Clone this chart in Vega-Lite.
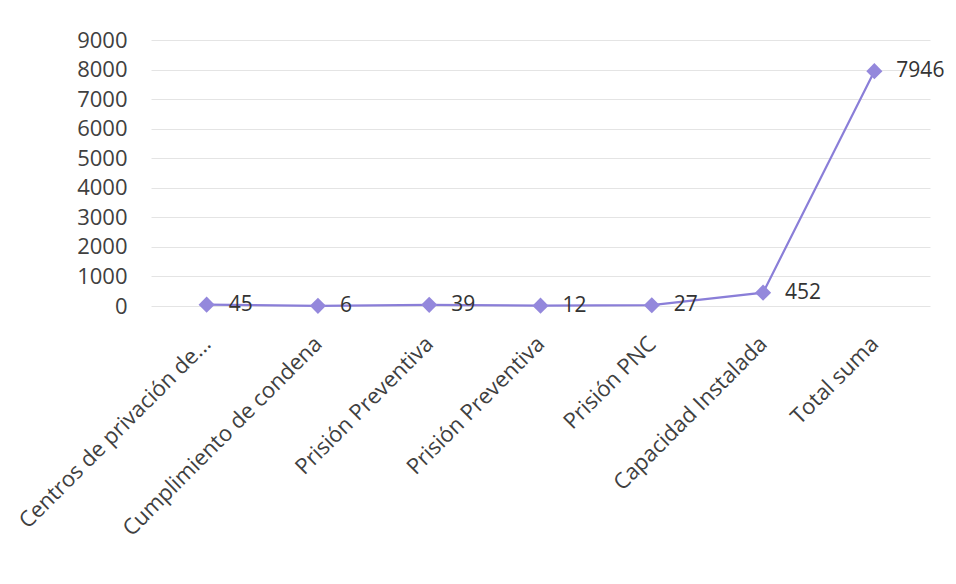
{
  "$schema": "https://vega.github.io/schema/vega-lite/v6.json",
  "width": 779,
  "height": 266,
  "autosize": {"type": "none"},
  "padding": {"left": 151, "top": 40, "right": 26, "bottom": 278},
  "background": "white",
  "config": {
    "view": {"stroke": null},
    "axis": {"labelFont": "Open Sans", "labelColor": "#404040", "labelFontSize": 22, "domain": false, "ticks": false, "title": null, "labelLimit": 0}
  },
  "data": {
    "values": [
      {"idx": 0, "categoria": "Centros de privación de...", "valor": 45},
      {"idx": 1, "categoria": "Cumplimiento de condena", "valor": 6},
      {"idx": 2, "categoria": "Prisión Preventiva", "valor": 39},
      {"idx": 3, "categoria": "Prisión Preventiva", "valor": 12},
      {"idx": 4, "categoria": "Prisión PNC", "valor": 27},
      {"idx": 5, "categoria": "Capacidad Instalada", "valor": 452},
      {"idx": 6, "categoria": "Total suma", "valor": 7946}
    ]
  },
  "encoding": {
    "x": {
      "field": "idx",
      "type": "ordinal",
      "axis": {
        "labelAngle": -45,
        "labelAlign": "right",
        "labelBaseline": "middle",
        "labelPadding": 34,
        "grid": false,
        "labelExpr": "['Centros de privación de...','Cumplimiento de condena','Prisión Preventiva','Prisión Preventiva','Prisión PNC','Capacidad Instalada','Total suma'][datum.value]"
      }
    },
    "y": {
      "field": "valor",
      "type": "quantitative",
      "scale": {"domain": [0, 9000], "nice": false},
      "axis": {"values": [0, 1000, 2000, 3000, 4000, 5000, 6000, 7000, 8000, 9000], "format": "d", "labelPadding": 24, "labelFontSize": 22, "gridColor": "#e4e4e4", "gridWidth": 1}
    }
  },
  "layer": [
    {"mark": {"type": "line", "color": "#8a7ed8", "strokeWidth": 2.2}},
    {"mark": {"type": "point", "shape": "diamond", "filled": true, "size": 260, "color": "#9488dc", "opacity": 1}},
    {
      "mark": {"type": "text", "align": "left", "baseline": "middle", "dx": 22, "font": "Open Sans", "fontSize": 21, "color": "#333333"},
      "encoding": {"text": {"field": "valor", "type": "quantitative"}}
    }
  ]
}
